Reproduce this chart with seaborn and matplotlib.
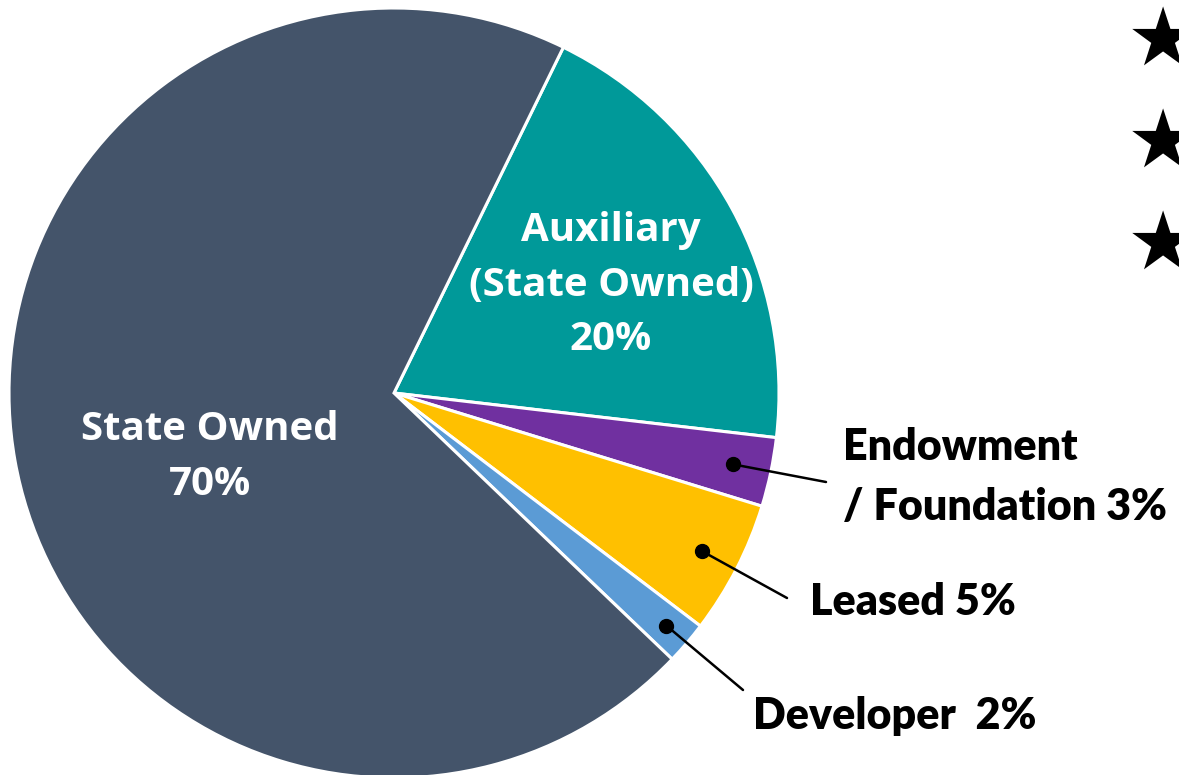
import numpy as np
import matplotlib
matplotlib.use("Agg")
import matplotlib.pyplot as plt
import seaborn as sns

# slice data, clockwise from the top boundary
categories = ["Auxiliary (State Owned)", "Endowment / Foundation", "Leased", "Developer", "State Owned"]
shares = [19.6, 2.9, 5.6, 1.8, 70.1]
colors = ["#009999", "#7030A0", "#FFC000", "#5B9BD5", "#44546A"]
inner_labels = {0: "Auxiliary\n(State Owned)\n20%", 4: "State Owned\n70%"}
outer_labels = {1: "Endowment\n/ Foundation 3%", 2: "Leased 5%", 3: "Developer  2%"}

sns.set_theme(style="white")
plt.rcParams["font.family"] = ["Open Sans", "DejaVu Sans"]

W, H = 1179, 775
fig = plt.figure(figsize=(W / 100, H / 100), dpi=100)
ax = fig.add_axes([0, 0, 1, 1])

cx, cy, R = 394, H - 393, 385
wedges, _ = ax.pie(shares, colors=colors, startangle=63.9, counterclock=False,
                   center=(cx, cy), radius=R,
                   wedgeprops=dict(edgecolor="white", linewidth=2.2))
ax.set_xlim(0, W)
ax.set_ylim(0, H)
ax.set_aspect("equal")
ax.axis("off")

# labels inside the big slices
ax.text(611, H - 285, inner_labels[0], color="white", fontsize=29, fontweight="bold",
        ha="center", va="center", linespacing=1.52)
ax.text(210, H - 457, inner_labels[4], color="white", fontsize=29, fontweight="bold",
        ha="center", va="center", linespacing=1.52)

# callouts for the thin slices
text_pos = {1: (843, H - 520), 2: (810, H - 615), 3: (753, H - 729)}
line_end = {1: (826, H - 482), 2: (787, H - 598), 3: (743, H - 690)}
dot_r = {1: 0.9, 2: 0.9, 3: 0.93}
for i, lab in outer_labels.items():
    w = wedges[i]
    mid = np.deg2rad((w.theta1 + w.theta2) / 2)
    px = cx + dot_r[i] * R * np.cos(mid)
    py = cy + dot_r[i] * R * np.sin(mid)
    ax.plot([px, line_end[i][0]], [py, line_end[i][1]], color="black", lw=1.8)
    ax.plot(px, py, "o", color="black", ms=10)
    ax.text(text_pos[i][0], text_pos[i][1], lab, family=["Lato", "DejaVu Sans"],
            fontsize=31, fontweight="heavy", ha="left", va="baseline", linespacing=1.62,
            color="black")

# bullet stars cut off at right edge
for y in [43, 145, 247]:
    ax.text(1163, H - y, "\u2605", family=["DejaVu Sans"], fontsize=58,
            ha="center", va="center", color="black")

fig.savefig("out.png", dpi=100)
